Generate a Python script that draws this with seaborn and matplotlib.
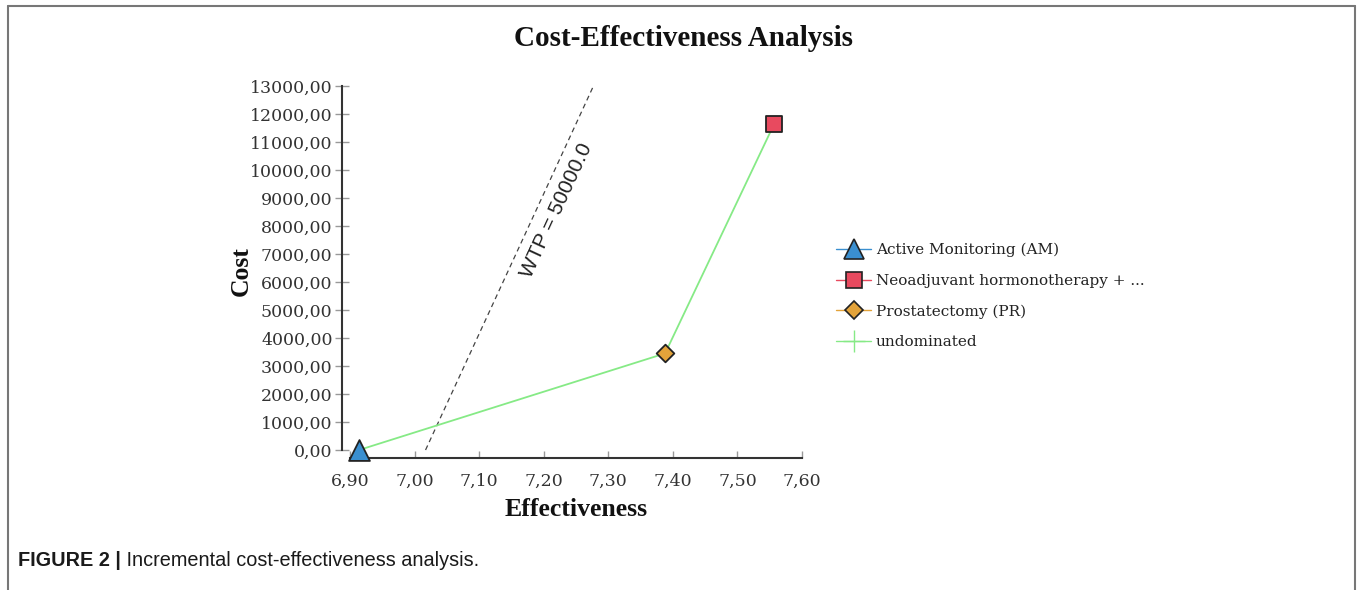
import matplotlib
matplotlib.use("Agg")
import matplotlib.pyplot as plt
from matplotlib.lines import Line2D
import seaborn as sns
import pandas as pd

# ---- data ----
strategies = ["Active Monitoring (AM)", "Neoadjuvant hormonotherapy + ...", "Prostatectomy (PR)"]
effectiveness = [6.914, 7.557, 7.388]
cost = [0.0, 11650.0, 3450.0]
frontier_order = ["Active Monitoring (AM)", "Prostatectomy (PR)", "Neoadjuvant hormonotherapy + ..."]
wtp = 50000.0
wtp_x0 = 7.017
wtp_cost_end = 13000.0
x_ticks = [6.90, 7.00, 7.10, 7.20, 7.30, 7.40, 7.50, 7.60]
x_tick_labels = ["6,90", "7,00", "7,10", "7,20", "7,30", "7,40", "7,50", "7,60"]
y_ticks = [0, 1000, 2000, 3000, 4000, 5000, 6000, 7000, 8000, 9000, 10000, 11000, 12000, 13000]
y_tick_labels = ["0,00", "1000,00", "2000,00", "3000,00", "4000,00", "5000,00", "6000,00",
                 "7000,00", "8000,00", "9000,00", "10000,00", "11000,00", "12000,00", "13000,00"]
title = "Cost-Effectiveness Analysis"
caption_bold = "FIGURE 2 |"
caption_rest = " Incremental cost-effectiveness analysis."

marker_map = {strategies[0]: "^", strategies[1]: "s", strategies[2]: "D"}
fill_map = {strategies[0]: "#3a8fd0", strategies[1]: "#e84a5f", strategies[2]: "#e3a33a"}
size_map = {strategies[0]: 15, strategies[1]: 11, strategies[2]: 9}
green = "#86ea86"

sns.set_theme(style="white")
plt.rcParams["font.family"] = ["DejaVu Serif"]

W, H = 1357, 590
fig = plt.figure(figsize=(W / 100, H / 100), dpi=100)
fig.patch.set_facecolor("white")

# axes placement in pixels
left_px, right_px, top_px, bottom_px = 342, 802, 86, 458
ax = fig.add_axes([left_px / W, (H - bottom_px) / H, (right_px - left_px) / W, (bottom_px - top_px) / H])
x_left = 6.90 - 8 / 646.0
y_bottom = -8 / 28.0 * 1000
ax.set_xlim(x_left, 7.60)
ax.set_ylim(y_bottom, 13000)
ax.set_facecolor("white")

df = pd.DataFrame({"strategy": strategies, "effectiveness": effectiveness, "cost": cost})
front = df.set_index("strategy").loc[frontier_order].reset_index()

# WTP line
wtp_df = pd.DataFrame({"effectiveness": [wtp_x0, wtp_x0 + wtp_cost_end / wtp], "cost": [0.0, wtp_cost_end]})
sns.lineplot(data=wtp_df, x="effectiveness", y="cost", ax=ax, color="#444444", lw=0.9,
             linestyle=(0, (4, 3)), sort=False)
ax.text(7.2200, 8571, f"WTP = {wtp:.1f}", rotation=65.2, rotation_mode="anchor",
        ha="center", va="center", fontsize=15, family=["Liberation Sans", "DejaVu Sans"], color="#222222")

# undominated frontier
sns.lineplot(data=front, x="effectiveness", y="cost", ax=ax, color=green, lw=1.3, sort=False)

for s in strategies:
    sub = df[df["strategy"] == s]
    sns.scatterplot(data=sub, x="effectiveness", y="cost", ax=ax, marker=marker_map[s],
                    color=fill_map[s], s=size_map[s] ** 2, edgecolor="#222222", linewidth=1.3,
                    zorder=5, clip_on=False, legend=False)

# spines
for sp in ["top", "right"]:
    ax.spines[sp].set_visible(False)
ax.spines["left"].set_bounds(0, 13000)
ax.spines["bottom"].set_bounds(6.90, 7.60)
for sp in ["left", "bottom"]:
    ax.spines[sp].set_color("#333333")
    ax.spines[sp].set_linewidth(1.5)

ax.set_xticks(x_ticks)
ax.set_xticklabels(x_tick_labels)
ax.set_yticks(y_ticks)
ax.set_yticklabels(y_tick_labels)
ax.tick_params(axis="x", direction="in", length=5, width=1, color="#999999", labelsize=12.5,
               labelcolor="#333333", pad=11, bottom=True)
ax.tick_params(axis="y", direction="inout", length=9.5, width=1, color="#999999", labelsize=12.5,
               labelcolor="#333333", pad=2, left=True)
ax.set_xlabel("")
ax.set_ylabel("")
ax.grid(False)

serif_bold = dict(family=["Liberation Serif", "DejaVu Serif"], fontweight="bold", color="#111111")
fig.text(684 / W, 1 - 38 / H, title, ha="center", va="center", fontsize=21, **serif_bold)
fig.text(241 / W, 1 - 271 / H, "Cost", ha="center", va="center", rotation=90, fontsize=18.5, **serif_bold)
fig.text(576 / W, 1 - 510 / H, "Effectiveness", ha="center", va="center", fontsize=18.5, **serif_bold)

# legend
handles = []
for s in strategies:
    handles.append(Line2D([0], [0], color=fill_map[s], lw=1, marker=marker_map[s],
                          markerfacecolor=fill_map[s], markeredgecolor="#222222",
                          markeredgewidth=1.2, markersize=size_map[s]))
handles.append(Line2D([0], [0], color=green, lw=1, marker="+", markersize=16,
                      markeredgecolor=green, markeredgewidth=1))
labels = strategies + ["undominated"]
fig.legend(handles, labels, loc="upper left", bbox_to_anchor=(836 / W, 1 - 243 / H),
           frameon=False, borderpad=0, borderaxespad=0, handlelength=2.3, handletextpad=0.3,
           labelspacing=1.08, fontsize=11, labelcolor="#222222")

# frame
fc = "#777777"
fig.add_artist(Line2D([7.5 / W, 7.5 / W], [0, 1 - 6 / H], color=fc, lw=1.5, transform=fig.transFigure))
fig.add_artist(Line2D([7.5 / W, 1355 / W], [1 - 6 / H, 1 - 6 / H], color=fc, lw=1.5, transform=fig.transFigure))
fig.add_artist(Line2D([1355 / W, 1355 / W], [0, 1 - 6 / H], color=fc, lw=1.5, transform=fig.transFigure))

# caption
cap_font = ["Liberation Sans Narrow", "Liberation Sans", "DejaVu Sans"]
t1 = fig.text(18 / W, 1 - 561 / H, caption_bold, ha="left", va="center", fontsize=14.3,
              family=cap_font, fontweight="bold", color="#1a1a1a")
fig.canvas.draw()
bb = t1.get_window_extent()
fig.text(bb.x1 / W, 1 - 561 / H, caption_rest, ha="left", va="center", fontsize=14.3,
         family=cap_font, color="#1a1a1a")

fig.savefig("out.png", dpi=100, facecolor="white")
